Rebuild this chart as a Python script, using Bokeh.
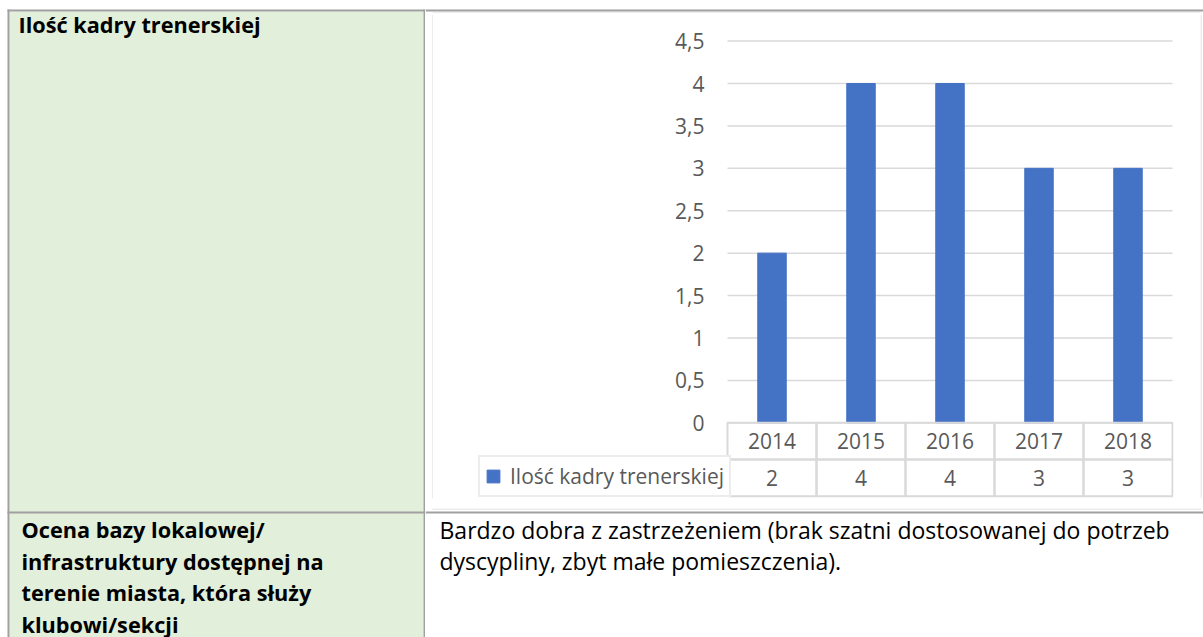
from bokeh.plotting import figure
from bokeh.layouts import row, column
from bokeh.models import (Range1d, FixedTicker, CustomJSTickFormatter, Legend, LegendItem)
from bokeh.embed import file_html
from bokeh.resources import INLINE
from bokeh.core.properties import value

# ---------------- data ----------------
years = ["2014", "2015", "2016", "2017", "2018"]
counts = [2, 4, 4, 3, 3]
series_name = "Ilość kadry trenerskiej"
y_ticks = [0, 0.5, 1, 1.5, 2, 2.5, 3, 3.5, 4, 4.5]

row1_title = "Ilość kadry trenerskiej"
row2_title_lines = ["Ocena bazy lokalowej/",
                    "infrastruktury dostępnej na",
                    "terenie miasta, która służy",
                    "klubowi/sekcji"]
row2_text_lines = ["Bardzo dobra z zastrzeżeniem (brak szatni dostosowanej do potrzeb",
                   "dyscypliny, zbyt małe pomieszczenia)."]

# ---------------- styles ----------------
FONT = "Open Sans"
FS = "21px"
FS_HEAD = "21.7px"
FS_BODY = "23px"
TXT = "#595959"
LIGHT = "#d9d9d9"
BAR = "#4472C4"
GREEN = "#E2EFDA"
BORDER = "#a0a0a0"
ROW_H = 0.433          # data-table row height (value units)
CAT_PX = 89.0          # pixel width of one category
VAL_PX = 84.82         # pixels per value unit


def pix(x0, x1, y0, y1):
    """A plain figure whose ranges are page pixels (used for the table cells)."""
    f = figure(width=x1 - x0, height=y1 - y0, x_range=Range1d(x0, x1),
               y_range=Range1d(y1, y0), output_backend="svg", toolbar_location=None,
               title=None, min_border=0, x_axis_location=None, y_axis_location=None)
    f.outline_line_color = None
    f.background_fill_color = "white"
    f.border_fill_color = "white"
    f.xgrid.visible = False
    f.ygrid.visible = False
    return f


def hbox(f, x0, x1, y0, y1, color):
    f.quad(left=[x0], right=[x1], top=[y0], bottom=[y1], fill_color=color, line_color=None)


def txt(f, x, y, s, size, bold=False):
    f.text(x=[x], y=[y], text=[s], text_font=value(FONT), text_font_size=size,
           text_font_style="bold" if bold else "normal", text_color="black",
           text_align="left", text_baseline="alphabetic")


# ---- left column (green header cells) ----
A = pix(0, 425, 0, 637)
hbox(A, 9, 423, 11, 637, GREEN)
hbox(A, 7, 425, 9, 11, BORDER)
hbox(A, 7, 9, 9, 637, BORDER)
hbox(A, 423, 425.5, 9, 637, BORDER)
hbox(A, 7, 425, 511, 513, BORDER)
txt(A, 18, 24.3, row1_title, FS_HEAD, bold=True)
for i, line in enumerate(row2_title_lines):
    txt(A, 21, 529 + 31.7 * i, line, FS_HEAD, bold=True)

# ---- strips around the chart ----
T = pix(425, 1203, 0, 13)
hbox(T, 425, 1203, 9, 11, BORDER)
hbox(T, 432, 1201, 12, 13, LIGHT)

L = pix(425, 433, 13, 508)
hbox(L, 432, 433, 13, 508, LIGHT)

R = pix(1200, 1203, 13, 508)
hbox(R, 1200, 1201, 13, 508, LIGHT)

B = pix(425, 1203, 508, 637)
hbox(B, 432, 1201, 508, 509, LIGHT)
hbox(B, 425, 1203, 511, 513, BORDER)
for i, line in enumerate(row2_text_lines):
    txt(B, 439, 529.2 + 31.7 * i, line, FS_BODY)

# ---- the chart (frame holds plot area + data table + legend cell) ----
cw, ch = 767, 495          # figure 433..1200 x 13..508
left_cats = (727 - 477) / CAT_PX
C = figure(width=cw, height=ch, output_backend="svg", toolbar_location=None, title=None,
           x_range=Range1d(-left_cats, len(years) + 1 / CAT_PX),
           y_range=Range1d(-(498 - 422.3) / VAL_PX, 4.5 + (40.6 - 14) / VAL_PX),
           x_axis_location=None, y_axis_location="left",
           min_border_left=44, min_border_right=27, min_border_top=1, min_border_bottom=10)
C.outline_line_color = None
C.background_fill_color = "white"
C.border_fill_color = "white"
C.xgrid.visible = False
C.ygrid.visible = False

centers = [i + 0.5 for i in range(len(years))]

ticker = FixedTicker(ticks=y_ticks)
C.yaxis.ticker = ticker
C.yaxis.fixed_location = -(727 - 704) / CAT_PX
C.yaxis.formatter = CustomJSTickFormatter(code="return tick.toString().replace('.', ',')")
C.yaxis.axis_line_color = None
C.yaxis.major_tick_line_color = None
C.yaxis.minor_tick_line_color = None
C.yaxis.major_tick_out = 0
C.yaxis.major_tick_in = 0
C.yaxis.major_label_standoff = 0
C.yaxis.major_label_text_font = FONT
C.yaxis.major_label_text_font_size = FS
C.yaxis.major_label_text_color = TXT

# horizontal gridlines over the category span only
C.segment(x0=0, x1=len(years), y0=y_ticks, y1=y_ticks, line_color=LIGHT, line_width=1.5)

bars = C.vbar(x=centers, top=counts, width=0.32, fill_color=BAR, line_color=BAR)

# data table under the plot
C.rect(x=centers, y=-ROW_H / 2, width=1, height=ROW_H, fill_alpha=0,
       line_color=LIGHT, line_width=2)
C.rect(x=centers, y=-1.5 * ROW_H, width=1, height=ROW_H, fill_alpha=0,
       line_color=LIGHT, line_width=2)
C.text(x=centers, y=-ROW_H / 2, text=years, text_align="center", text_baseline="middle",
       text_font=value(FONT), text_font_size=FS, text_color=TXT)
C.text(x=centers, y=-1.5 * ROW_H, text=[str(v) for v in counts], text_align="center",
       text_baseline="middle", text_font=value(FONT), text_font_size=FS, text_color=TXT)

legend = Legend(items=[LegendItem(label=series_name, renderers=[bars])],
                location=(1, 1), orientation="vertical", padding=5, margin=0,
                spacing=0, glyph_width=16, glyph_height=16, label_standoff=9,
                label_width=214, label_height=24,
                border_line_color=LIGHT, border_line_width=2,
                background_fill_color="white", background_fill_alpha=1,
                label_text_font=FONT, label_text_font_size=FS, label_text_color=TXT)
C.add_layout(legend, "center")

layout = row(A, column(T, row(L, C, R), B))

open("out.html", "w").write(file_html(layout, INLINE))
